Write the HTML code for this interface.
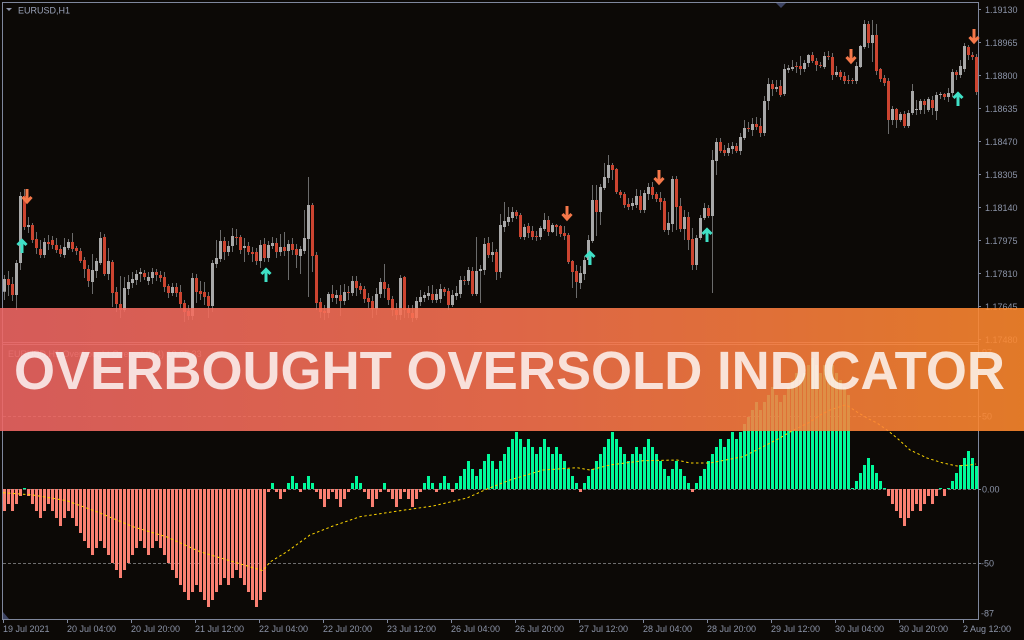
<!DOCTYPE html>
<html><head><meta charset="utf-8"><style>
html,body{margin:0;padding:0;background:#0c0906;width:1024px;height:640px;overflow:hidden}
svg{display:block}
text{font-family:"Liberation Sans",Arial,sans-serif}
</style></head><body>
<svg width="1024" height="640" viewBox="0 0 1024 640" xmlns="http://www.w3.org/2000/svg">
<defs>
<linearGradient id="bg" x1="0" y1="0" x2="1" y2="0">
<stop offset="0" stop-color="#f16765"/><stop offset="0.5" stop-color="#fb7350"/><stop offset="1" stop-color="#ff892d"/>
</linearGradient>
</defs>
<rect width="1024" height="640" fill="#0c0906"/>
<!-- frame -->
<g stroke="#7f879c" stroke-width="1" fill="none" shape-rendering="crispEdges">
<path d="M2.5 2.5H978.5V619.5H2.5Z"/>
<path d="M2.5 342.5H978.5M2.5 344.5H978.5"/>
</g>
<polygon points="776,3 786,3 781,8" fill="#3d4463"/>
<polygon points="6,8 12,8 9,11" fill="#8c94a8"/>
<text x="18" y="13.5" font-size="9" fill="#9aa2b8">EURUSD,H1</text>
<polygon points="3,612 3,619 9,619" fill="#3d4463"/>
<!-- price axis -->
<g font-size="9" fill="#8c94a8">
<text x="985" y="12.8">1.19130</text>
<text x="985" y="45.8">1.18965</text>
<text x="985" y="78.8">1.18800</text>
<text x="985" y="111.8">1.18635</text>
<text x="985" y="144.8">1.18470</text>
<text x="985" y="177.8">1.18305</text>
<text x="985" y="210.8">1.18140</text>
<text x="985" y="243.8">1.17975</text>
<text x="985" y="276.8">1.17810</text>
<text x="985" y="309.8">1.17645</text>
<text x="985" y="342.8">1.17480</text>
<text x="982" y="355.3">97</text>
<text x="982" y="419.3">50</text>
<text x="982" y="492.3">0.00</text>
<text x="981" y="566.3">-50</text>
<text x="981" y="616.3">-87</text>
</g>
<g stroke="#7f879c" shape-rendering="crispEdges">
<path d="M978 9.5h3M978 42.5h3M978 75.5h3M978 108.5h3M978 141.5h3M978 174.5h3M978 207.5h3M978 240.5h3M978 273.5h3M978 306.5h3M978 339.5h3M978 416.5h3M978 489.5h3M978 563.5h3"/>
<path d="M3.5 619v4M67.5 619v4M131.5 619v4M195.5 619v4M259.5 619v4M323.5 619v4M387.5 619v4M451.5 619v4M515.5 619v4M579.5 619v4M643.5 619v4M707.5 619v4M771.5 619v4M835.5 619v4M899.5 619v4M963.5 619v4"/>
</g>
<g font-size="9" fill="#8c94a8">
<text x="3" y="632">19 Jul 2021</text>
<text x="67" y="632">20 Jul 04:00</text>
<text x="131" y="632">20 Jul 20:00</text>
<text x="195" y="632">21 Jul 12:00</text>
<text x="259" y="632">22 Jul 04:00</text>
<text x="323" y="632">22 Jul 20:00</text>
<text x="387" y="632">23 Jul 12:00</text>
<text x="451" y="632">26 Jul 04:00</text>
<text x="515" y="632">26 Jul 20:00</text>
<text x="579" y="632">27 Jul 12:00</text>
<text x="643" y="632">28 Jul 04:00</text>
<text x="707" y="632">28 Jul 20:00</text>
<text x="771" y="632">29 Jul 12:00</text>
<text x="835" y="632">30 Jul 04:00</text>
<text x="899" y="632">30 Jul 20:00</text>
<text x="963" y="632">2 Aug 12:00</text>
</g>
<text x="8" y="357" font-size="9" fill="#8c94a8">EURUSD,H1 Overbought Oversold(14) 19.05 33</text>
<!-- level lines -->
<g stroke="#6e6e6e" stroke-dasharray="3 2" shape-rendering="crispEdges">
<path d="M3 416.5H977M3 489.5H977M3 563.5H977"/>
</g>
<!-- wicks -->
<path fill="none" stroke="#6b6b6b" stroke-width="1" d="M4.5 275V300M8.5 271V296M12.5 277V301M16.5 260V310M20.5 192V270M24.5 189V230M28.5 217V233M32.5 223V243M36.5 232V254M40.5 240V258M44.5 238V258M48.5 235V250M52.5 236V249M56.5 238V253M60.5 245V257M64.5 238V258M68.5 239V250M72.5 233V252M76.5 246V255M80.5 248V263M84.5 257V278M88.5 265V287M92.5 254V294M96.5 258V278M100.5 232V265M104.5 234V276M108.5 248V280M112.5 260V307M116.5 287V312M120.5 276V318M124.5 277V312M128.5 275V295M132.5 272V288M136.5 270V285M140.5 268V282M144.5 270V280M148.5 272V285M152.5 268V284M156.5 269V281M160.5 271V282M164.5 272V292M168.5 284V298M172.5 283V296M176.5 283V297M180.5 285V308M184.5 300V322M188.5 305V320M192.5 273V320M196.5 274V303M200.5 281V300M204.5 282V305M208.5 292V318M212.5 260V312M216.5 240V268M220.5 230V262M224.5 237V260M228.5 241V256M232.5 228V252M236.5 229V245M240.5 235V254M244.5 238V262M248.5 242V255M252.5 247V262M256.5 248V265M260.5 240V268M264.5 238V262M268.5 241V262M272.5 237V249M276.5 238V258M280.5 234V256M284.5 232V256M288.5 240V280M292.5 238V255M296.5 244V268M300.5 246V274M304.5 210V254M308.5 177V297M312.5 203V272M316.5 252V310M320.5 298V318M324.5 305V320M328.5 292V318M332.5 285V302M336.5 290V304M340.5 285V316M344.5 284V305M348.5 286V300M352.5 276V296M356.5 276V296M360.5 283V294M364.5 286V303M368.5 293V308M372.5 296V318M376.5 288V315M380.5 278V298M384.5 264V298M388.5 284V305M392.5 296V316M396.5 303V320M400.5 275V320M404.5 276V318M408.5 305V318M412.5 305V322M416.5 297V320M420.5 290V306M424.5 292V302M428.5 286V300M432.5 285V303M436.5 289V303M440.5 284V303M444.5 287V296M448.5 288V310M452.5 290V307M456.5 286V300M460.5 276V298M464.5 276V285M468.5 267V285M472.5 267V296M476.5 237V296M480.5 265V303M484.5 238V275M488.5 237V258M492.5 242V262M496.5 249V280M500.5 214V278M504.5 202V232M508.5 207V226M512.5 207V222M516.5 210V219M520.5 213V239M524.5 224V240M528.5 223V238M532.5 226V240M536.5 231V241M540.5 226V240M544.5 213V231M548.5 216V236M552.5 223V233M556.5 224V236M560.5 225V237M564.5 226V240M568.5 233V264M572.5 260V288M576.5 265V298M580.5 266V289M584.5 256V280M588.5 235V265M592.5 185V243M596.5 185V236M600.5 184V225M604.5 163V190M608.5 155V183M612.5 163V180M616.5 168V194M620.5 190V198M624.5 192V208M628.5 198V210M632.5 198V210M636.5 189V208M640.5 190V213M644.5 190V213M648.5 183V200M652.5 182V199M656.5 192V202M660.5 192V210M664.5 198V232M668.5 212V235M672.5 176V232M676.5 176V230M680.5 198V232M684.5 210V240M688.5 212V250M692.5 228V270M696.5 235V270M700.5 215V240M704.5 203V220M708.5 205V218M712.5 150V293M716.5 138V175M720.5 138V153M724.5 145V156M728.5 143V156M732.5 142V154M736.5 143V153M740.5 133V155M744.5 120V140M748.5 122V132M752.5 118V136M756.5 117V130M760.5 118V137M764.5 96V136M768.5 78V110M772.5 80V96M776.5 80V92M780.5 80V97M784.5 64V96M788.5 65V73M792.5 60V71M796.5 62V73M800.5 56V75M804.5 60V72M808.5 54V67M812.5 52V63M816.5 58V71M820.5 62V68M824.5 52V69M828.5 51V60M832.5 53V80M836.5 66V77M840.5 70V80M844.5 72V84M848.5 75V84M852.5 78V84M856.5 62V84M860.5 45V68M864.5 20V49M868.5 21V48M872.5 20V62M876.5 24V75M880.5 68V82M884.5 75V86M888.5 78V134M892.5 106V125M896.5 108V128M900.5 112V122M904.5 111V128M908.5 110V128M912.5 84V115M916.5 100V115M920.5 99V114M924.5 99V114M928.5 97V112M932.5 96V115M936.5 92V120M940.5 92V99M944.5 93V100M948.5 88V102M952.5 69V97M956.5 70V80M960.5 60V78M964.5 43V72M968.5 45V60M972.5 52V60M976.5 54V95"/>
<!-- bull bodies -->
<path fill="none" stroke="#a9a9a9" stroke-width="3" d="M4.5 279V291.7M16.5 263V295M20.5 196V263M28.5 225V227M44.5 242V255M64.5 247V255M68.5 242V248M92.5 270V282M96.5 261V271M100.5 238V263M108.5 261V274M124.5 288V310M128.5 282V289M132.5 279V283M136.5 274V280M140.5 272V274M148.5 277V281M152.5 272V278M172.5 287V293M192.5 278V316M212.5 263V306M216.5 258V264M220.5 241V259M228.5 246V252M232.5 236V246M244.5 246V248M260.5 245V261M268.5 245V258M272.5 243V246M280.5 247V252M288.5 244V251M300.5 249V256M304.5 238V251M308.5 205V239M328.5 294V313M336.5 295V298M344.5 292V301M352.5 281V293M376.5 294V309M380.5 282V294M400.5 278V315M416.5 301V318M420.5 297V302M424.5 295V298M428.5 293V296M436.5 294V300M440.5 289V299M452.5 295V305M456.5 293V296M460.5 280V294M468.5 270V281M476.5 271V294M480.5 269V271M484.5 244V270M492.5 252V255M500.5 225V272M504.5 221V227M508.5 217V222M512.5 212V218M524.5 227V237M540.5 228V237M544.5 220V229M552.5 225V232M580.5 273V283M584.5 260V274M588.5 240V260M592.5 200V241M600.5 187V212M604.5 177V188M608.5 165V178M632.5 203V206M636.5 196V205M644.5 193V210M648.5 187V194M668.5 223V230M672.5 179V224M684.5 217V229M696.5 238V265M700.5 218V238M704.5 208V218M712.5 160V216M716.5 142V161M728.5 148V153M732.5 146V149M740.5 137V151M744.5 128V138M752.5 124V130M764.5 101V133M768.5 84V101M776.5 87V89M784.5 69V94M788.5 68V70M792.5 67V69M804.5 63V69M808.5 55V63M824.5 56V67M836.5 72V75M856.5 66V81M860.5 46V67M864.5 24V47M872.5 35V43M892.5 109V120M900.5 114V120M908.5 113V126M912.5 91V113M916.5 109V110M920.5 101V110M928.5 99V110M936.5 95V111M940.5 94V95M948.5 93V97M952.5 72V93M960.5 66V75M964.5 46V69"/>
<!-- bear bodies -->
<path fill="none" stroke="#cc4430" stroke-width="3" d="M8.5 279V285M12.5 284V295M24.5 196V227M32.5 225V240M36.5 239V248M40.5 249V255M48.5 242V244M52.5 240V245M56.5 245V250M60.5 249V254M72.5 242V249M76.5 248V251M80.5 251V261M84.5 260V269M88.5 269V281M104.5 237V274M112.5 262V293M116.5 292V304M120.5 304V310M144.5 273V277M156.5 272V275M160.5 275V278M164.5 277V287M168.5 286V293M176.5 287V293M180.5 292V304M184.5 303V312M188.5 311V316M196.5 278V292M200.5 291V294M204.5 292V297M208.5 296V306M224.5 241V252M236.5 237V238M240.5 237V250M248.5 246V252M252.5 252V254M256.5 252V261M264.5 244V258M276.5 243V252M284.5 247V251M292.5 244V250M296.5 249V255M312.5 205V256M316.5 255V303M320.5 302V312M324.5 311V313M332.5 294V298M340.5 295V301M348.5 292V293M356.5 281V288M360.5 286V290M364.5 289V299M368.5 298V302M372.5 301V309M384.5 282V289M388.5 288V300M392.5 299V310M396.5 310V315M404.5 277V310M408.5 308V313M412.5 313V318M432.5 294V300M444.5 289V292M448.5 291V305M464.5 280V281M472.5 271V294M488.5 243V255M496.5 252V272M516.5 212V216M520.5 215V237M528.5 226V233M532.5 231V237M536.5 236V237M548.5 220V232M556.5 225V227M560.5 226V234M564.5 233V236M568.5 235V262M572.5 261V272M576.5 271V282M596.5 200V212M612.5 165V170M616.5 169V192M620.5 192V195M624.5 194V205M628.5 204V207M640.5 196V210M652.5 187V195M656.5 194V199M660.5 198V202M664.5 201V230M676.5 179V207M680.5 206V229M688.5 217V240M692.5 239V265M708.5 208V216M720.5 142V151M724.5 150V153M736.5 146V151M748.5 128V129M756.5 124V127M760.5 126V133M772.5 84V89M780.5 86V95M796.5 66V67M800.5 66V69M812.5 55V61M816.5 61V65M820.5 65V66M828.5 56V57M832.5 57V75M840.5 72V77M844.5 76V81M848.5 80V81M852.5 80V81M868.5 24V43M876.5 35V71M880.5 69V79M884.5 78V83M888.5 81V120M896.5 109V120M904.5 114V126M924.5 101V105M932.5 100V108M944.5 94V97M956.5 72V75M968.5 47V55M972.5 55V57M976.5 57V92"/>
<!-- arrows down (orange) -->
<g fill="none" stroke="#f5784a" stroke-width="3" stroke-linecap="butt" stroke-linejoin="miter">
<path d="M27 189V201M22.5 197L27 202L31.5 197"/>
<path d="M567 206V218M562.5 214L567 219L571.5 214"/>
<path d="M659 170V182M654.5 178L659 183L663.5 178"/>
<path d="M851 49V61M846.5 57L851 62L855.5 57"/>
<path d="M974 29V41M969.5 37L974 42L978.5 37"/>
</g>
<!-- arrows up (cyan) -->
<g fill="none" stroke="#3fe0c6" stroke-width="3" stroke-linecap="butt" stroke-linejoin="miter">
<path d="M22 241V253M17.5 245L22 240.5L26.5 245"/>
<path d="M266 270V282M261.5 274L266 269.5L270.5 274"/>
<path d="M590 253V265M585.5 257L590 252.5L594.5 257"/>
<path d="M707 230V242M702.5 234L707 229.5L711.5 234"/>
<path d="M958 94V106M953.5 98L958 93.5L962.5 98"/>
</g>
<!-- histogram green -->
<path fill="none" stroke="#00fa9a" stroke-width="3" d="M24.5 489V488M272.5 489V483M288.5 489V483M292.5 489V476M296.5 489V483M304.5 489V483M308.5 489V476M312.5 489V483M352.5 489V483M356.5 489V476M360.5 489V483M384.5 489V483M424.5 489V483M428.5 489V476M432.5 489V483M440.5 489V483M444.5 489V476M448.5 489V483M456.5 489V483M460.5 489V476M464.5 489V469M468.5 489V461M472.5 489V469M476.5 489V476M480.5 489V469M484.5 489V461M488.5 489V454M492.5 489V461M496.5 489V469M500.5 489V461M504.5 489V454M508.5 489V447M512.5 489V439M516.5 489V432M520.5 489V439M524.5 489V447M528.5 489V439M532.5 489V447M536.5 489V454M540.5 489V447M544.5 489V439M548.5 489V447M552.5 489V454M556.5 489V447M560.5 489V454M564.5 489V461M568.5 489V469M572.5 489V476M576.5 489V483M584.5 489V483M588.5 489V476M592.5 489V469M596.5 489V461M600.5 489V454M604.5 489V447M608.5 489V439M612.5 489V432M616.5 489V439M620.5 489V447M624.5 489V454M628.5 489V461M632.5 489V454M636.5 489V447M640.5 489V454M644.5 489V447M648.5 489V439M652.5 489V447M656.5 489V454M660.5 489V461M664.5 489V469M668.5 489V476M672.5 489V469M676.5 489V461M680.5 489V469M684.5 489V476M688.5 489V483M696.5 489V483M700.5 489V476M704.5 489V469M708.5 489V461M712.5 489V454M716.5 489V447M720.5 489V439M724.5 489V447M728.5 489V439M732.5 489V432M736.5 489V439M740.5 489V432M744.5 489V424M748.5 489V417M752.5 489V410M756.5 489V402M760.5 489V410M764.5 489V402M768.5 489V395M772.5 489V387M776.5 489V395M780.5 489V402M784.5 489V395M788.5 489V387M792.5 489V380M796.5 489V373M800.5 489V380M804.5 489V373M808.5 489V365M812.5 489V358M816.5 489V365M820.5 489V373M824.5 489V365M828.5 489V358M832.5 489V365M836.5 489V373M840.5 489V380M844.5 489V387M848.5 489V395M852.5 489V488M856.5 489V481M860.5 489V473M864.5 489V465M868.5 489V458M872.5 489V465M876.5 489V473M880.5 489V481M884.5 489V488M940.5 489V488M948.5 489V488M952.5 489V481M956.5 489V473M960.5 489V465M964.5 489V458M968.5 489V451M972.5 489V458M976.5 489V466"/>
<!-- histogram red -->
<path fill="none" stroke="#fa8072" stroke-width="3" d="M4.5 489V511M8.5 489V504M12.5 489V511M16.5 489V504M20.5 489V496M28.5 489V496M32.5 489V504M36.5 489V511M40.5 489V518M44.5 489V511M48.5 489V504M52.5 489V511M56.5 489V518M60.5 489V526M64.5 489V518M68.5 489V511M72.5 489V518M76.5 489V526M80.5 489V533M84.5 489V541M88.5 489V548M92.5 489V555M96.5 489V548M100.5 489V541M104.5 489V548M108.5 489V555M112.5 489V563M116.5 489V570M120.5 489V578M124.5 489V570M128.5 489V563M132.5 489V555M136.5 489V548M140.5 489V541M144.5 489V548M148.5 489V555M152.5 489V548M156.5 489V541M160.5 489V548M164.5 489V555M168.5 489V563M172.5 489V570M176.5 489V578M180.5 489V585M184.5 489V592M188.5 489V600M192.5 489V592M196.5 489V585M200.5 489V592M204.5 489V600M208.5 489V607M212.5 489V600M216.5 489V592M220.5 489V585M224.5 489V578M228.5 489V585M232.5 489V578M236.5 489V570M240.5 489V578M244.5 489V585M248.5 489V592M252.5 489V600M256.5 489V607M260.5 489V600M264.5 489V592M268.5 489V492M276.5 489V492M280.5 489V499M284.5 489V492M300.5 489V492M316.5 489V492M320.5 489V499M324.5 489V507M328.5 489V499M332.5 489V492M336.5 489V499M340.5 489V507M344.5 489V499M348.5 489V492M364.5 489V492M368.5 489V499M372.5 489V507M376.5 489V499M380.5 489V492M388.5 489V492M392.5 489V499M396.5 489V507M400.5 489V499M404.5 489V492M408.5 489V499M412.5 489V507M416.5 489V499M420.5 489V492M436.5 489V492M452.5 489V492M580.5 489V492M692.5 489V492M888.5 489V496M892.5 489V504M896.5 489V511M900.5 489V518M904.5 489V526M908.5 489V518M912.5 489V511M916.5 489V504M920.5 489V511M924.5 489V504M928.5 489V496M932.5 489V504M936.5 489V496M944.5 489V496"/>
<!-- signal line -->
<polyline fill="none" stroke="#ffd700" stroke-width="1" stroke-dasharray="2.5 2.5" points="3,492.7 33,495 67,500.7 100,513 133,526.7 167,537 200,551.7 233,561.7 263,570.7 270,562 287,551.7 310,535 333,526 360,516.7 400,510.7 433,506 467,498 487,489 510,480 543,470 577,467.7 590,470 610,465 643,460.7 677,460 690,463 710,463 743,456.7 763,446.7 778,439 790,432 800,427 810,422 820,415 830,410 840,406.7 845,405 848,406 857,412 867,418 877,423 887,430 897,438 910,450 927,458 943,463 957,466 970,465 976,464"/>
<!-- banner -->
<rect x="0" y="308" width="1024" height="123" fill="url(#bg)" fill-opacity="0.88"/>
<text x="14" y="389" font-size="54" font-weight="bold" fill="#ffffff" fill-opacity="0.8" textLength="991" lengthAdjust="spacingAndGlyphs">OVERBOUGHT OVERSOLD INDICATOR</text>
</svg>
</body></html>
